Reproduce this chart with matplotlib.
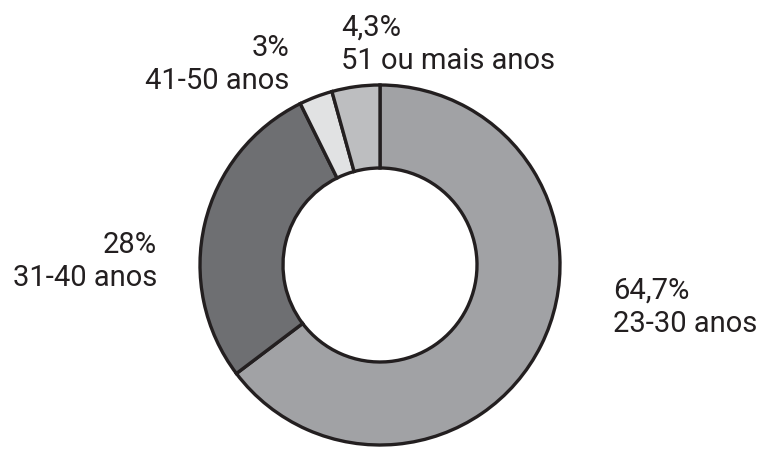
import matplotlib.pyplot as plt

# faixas etarias (sentido horario a partir do topo)
faixas = ["23-30 anos", "31-40 anos", "41-50 anos", "51 ou mais anos"]
percentuais = [64.7, 28, 3, 4.3]
rotulos = ["64,7%", "28%", "3%", "4,3%"]
cores = ["#a1a2a5", "#6e6f72", "#e1e2e3", "#bdbec0"]

plt.rcParams['font.family'] = ['Roboto', 'DejaVu Sans']

fig = plt.figure(figsize=(7.64, 4.75), dpi=100)
ax = fig.add_axes([0, 0, 1, 1])

ax.pie(percentuais, colors=cores, startangle=90, counterclock=False,
       center=(380, 210), radius=180,
       wedgeprops=dict(width=83, edgecolor='#231f20', linewidth=2.4))

# pie() mexe nos limites, entao define depois
ax.set_xlim(0, 764)
ax.set_ylim(0, 475)
ax.set_aspect('equal')
ax.axis('off')

txt = dict(color='#231f20', fontsize=21, va='center')
# posicoes dos rotulos (px, a partir de baixo)
pos = [(613, 184, 'left'), (157, 230, 'right'), (289, 427, 'right'), (341, 447, 'left')]
for (x, y, ha), r, f in zip(pos, rotulos, faixas):
    ax.text(x, y, r, ha=ha, **txt)
    ax.text(x, y - 33, f, ha=ha, **txt)

fig.savefig("out.png", dpi=100)
